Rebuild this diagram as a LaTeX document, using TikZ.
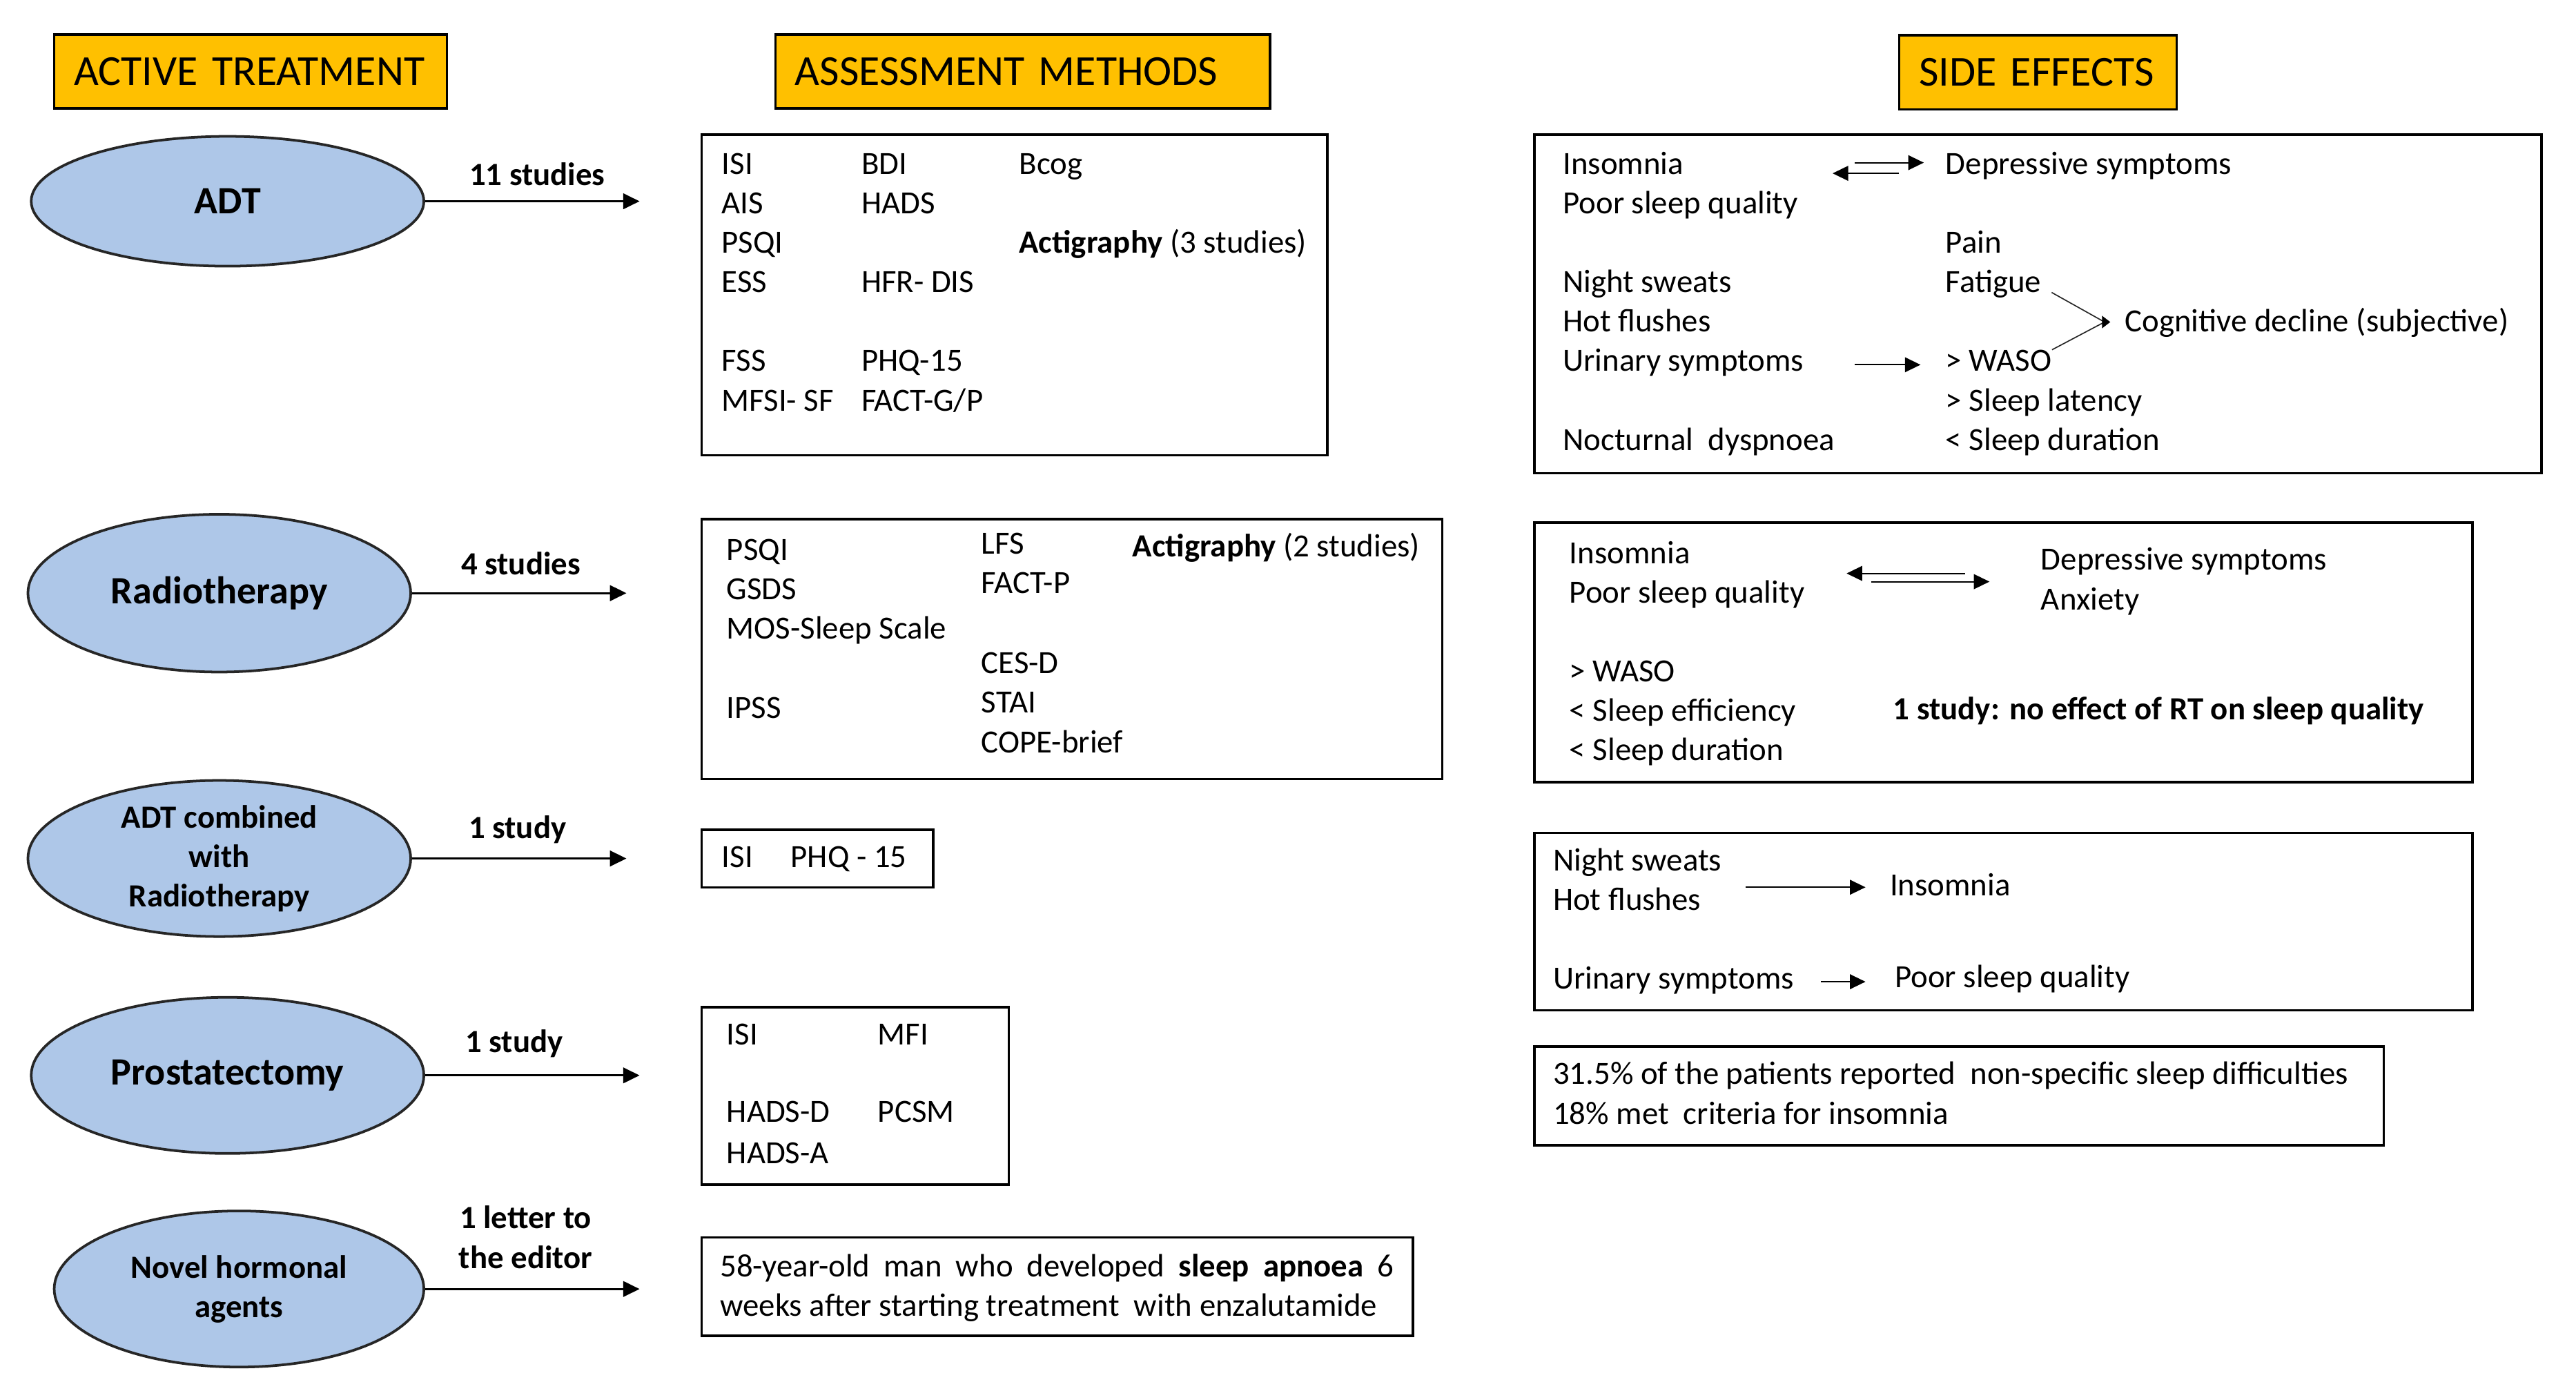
\documentclass[tikz,border=0pt]{standalone}
\usepackage{fontspec}
\setmainfont{Carlito}
\usetikzlibrary{arrows.meta,positioning,calc,shapes.geometric}
\definecolor{headorange}{HTML}{FFC000}
\definecolor{treatblue}{HTML}{AEC7E8}
\newcommand{\bodysize}{\fontsize{11.2}{13.66}\selectfont}
\newcommand{\headsize}{\fontsize{14.8}{17.8}\selectfont}
\newcommand{\treatsize}{\fontsize{13.4}{16}\selectfont}

\begin{document}
\begin{tikzpicture}[
  font=\bodysize,
  head/.style={draw, fill=headorange, line width=0.8pt, font=\headsize, align=left, inner xsep=0.24cm, minimum height=0.9cm},
  treat/.style={draw=black!85, fill=treatblue, ellipse, line width=0.9pt, inner sep=0pt, font=\treatsize\bfseries, align=center},
  box/.style={draw, line width=0.8pt, inner sep=0pt},
  lbl/.style={anchor=base west, inner sep=0pt},
  cnt/.style={font=\bodysize\bfseries, align=center, inner sep=0pt},
  arr/.style={-{Triangle[length=2.0mm, width=1.9mm]}, line width=0.65pt},
  sarr/.style={-{Triangle[length=1.9mm, width=1.8mm]}, line width=0.5pt},
  thinl/.style={line width=0.4pt, black!85}
]
\useasboundingbox (0,0) rectangle (31.36,-17.04);

% headings
\node[head, text width=4.30cm] (hact)  at (3.05,-0.87)  {ACTIVE TREATMENT};
\node[head, text width=5.54cm] (hasm)  at (12.45,-0.87) {ASSESSMENT METHODS};
\node[head, text width=2.90cm] (hside) at (24.81,-0.88) {SIDE EFFECTS};

% treatments
\node[treat, minimum width=4.78cm, minimum height=1.58cm] (adt)   at (2.77,-2.45)  {ADT};
\node[treat, minimum width=4.66cm, minimum height=1.92cm] (rt)    at (2.67,-7.22)  {Radiotherapy};
\node[treat, minimum width=4.66cm, minimum height=1.90cm, font=\bodysize\bfseries] (combo) at (2.67,-10.45) {ADT combined\\with\\Radiotherapy};
\node[treat, minimum width=4.78cm, minimum height=1.90cm] (prost) at (2.77,-13.09) {Prostatectomy};
\node[treat, minimum width=4.50cm, minimum height=1.90cm, font=\bodysize\bfseries] (novel) at (2.91,-15.69) {Novel hormonal\\agents};

% assessment boxes
\node[box, minimum width=7.62cm, minimum height=3.90cm] (am1) at (12.35,-3.59) {};
\node[box, minimum width=9.02cm, minimum height=3.16cm] (am2) at (13.05,-7.90) {};
\node[box, minimum width=2.82cm, minimum height=0.70cm] (am3) at (9.95,-10.45) {};
\node[box, minimum width=3.74cm, minimum height=2.16cm] (am4) at (10.41,-13.34) {};
\node[box, minimum width=8.66cm, minimum height=1.20cm] (am5) at (12.87,-15.66) {};

% side effect boxes
\node[box, minimum width=12.26cm, minimum height=4.12cm] (se1) at (24.81,-3.70) {};
\node[box, minimum width=11.42cm, minimum height=3.16cm] (se2) at (24.39,-7.94) {};
\node[box, minimum width=11.42cm, minimum height=2.16cm] (se3) at (24.39,-11.22) {};
\node[box, minimum width=10.34cm, minimum height=1.20cm] (se4) at (23.85,-13.34) {};

% treatment arrows
\draw[arr, shorten >=0.74cm] (adt.east)   -- (adt.east -| am1.west);
\draw[arr, shorten >=0.90cm] (rt.east)    -- (rt.east -| am2.west);
\draw[arr, shorten >=0.90cm] (combo.east) -- (combo.east -| am3.west);
\draw[arr, shorten >=0.74cm] (prost.east) -- (prost.east -| am4.west);
\draw[arr, shorten >=0.74cm] (novel.east) -- (novel.east -| am5.west);
\node[cnt] (l1) at (6.54,-2.12)  {11 studies};
\node[cnt] (l2) at (6.34,-6.86)  {4 studies};
\node[cnt] (l3) at (6.30,-10.10) {1 study};
\node[cnt] (l4) at (6.26,-12.70) {1 study};
\node[cnt] (l5) at (6.40,-15.06) {1 letter to\\the editor};

% ADT methods
\node[lbl] (m1isi)  at (8.78,-2.12)  {ISI};
\node[lbl] (m1bdi)  at (10.48,-2.12) {BDI};
\node[lbl] (m1bcog) at (12.40,-2.12) {Bcog};
\node[lbl] (m1ais)  at (8.78,-2.60)  {AIS};
\node[lbl] (m1hads) at (10.48,-2.60) {HADS};
\node[lbl] (m1psqi) at (8.78,-3.08)  {PSQI};
\node[lbl] (m1act)  at (12.40,-3.08) {\textbf{Actigraphy} (3 studies)};
\node[lbl] (m1ess)  at (8.78,-3.56)  {ESS};
\node[lbl] (m1hfr)  at (10.48,-3.56) {HFR- DIS};
\node[lbl] (m1fss)  at (8.78,-4.52)  {FSS};
\node[lbl] (m1phq)  at (10.48,-4.52) {PHQ-15};
\node[lbl] (m1mfsi) at (8.78,-5.00)  {MFSI- SF};
\node[lbl] (m1fact) at (10.48,-5.00) {FACT-G/P};

% RT methods
\node[lbl] (m2psqi)  at (8.84,-6.82)  {PSQI};
\node[lbl] (m2gsds)  at (8.84,-7.30)  {GSDS};
\node[lbl] (m2mos)   at (8.84,-7.78)  {MOS-Sleep Scale};
\node[lbl] (m2ipss)  at (8.84,-8.74)  {IPSS};
\node[lbl] (m2lfs)   at (11.94,-6.74) {LFS};
\node[lbl] (m2factp) at (11.94,-7.22) {FACT-P};
\node[lbl] (m2cesd)  at (11.94,-8.20) {CES-D};
\node[lbl] (m2stai)  at (11.94,-8.68) {STAI};
\node[lbl] (m2cope)  at (11.94,-9.16) {COPE-brief};
\node[lbl] (m2act)   at (13.78,-6.78) {\textbf{Actigraphy} (2 studies)};

% combined, prostatectomy, novel agents
\node[lbl] (m3isi)   at (8.78,-10.56)  {ISI};
\node[lbl] (m3phq)   at (9.62,-10.56)  {PHQ - 15};
\node[lbl] (m4isi)   at (8.84,-12.72)  {ISI};
\node[lbl] (m4mfi)   at (10.68,-12.72) {MFI};
\node[lbl] (m4hadsd) at (8.84,-13.66)  {HADS-D};
\node[lbl] (m4pcsm)  at (10.68,-13.66) {PCSM};
\node[lbl] (m4hadsa) at (8.84,-14.16)  {HADS-A};
\node[lbl] (m5a) at (8.76,-15.54) {\makebox[8.2cm][s]{58-year-old man who developed \textbf{sleep apnoea} 6}};
\node[lbl] (m5b) at (8.76,-16.02) {weeks after starting treatment\ \ with enzalutamide};

% ADT side effects
\node[lbl] (s1ins)   at (19.02,-2.12) {Insomnia};
\node[lbl] (s1poor)  at (19.02,-2.60) {Poor sleep quality};
\node[lbl] (s1night) at (19.02,-3.56) {Night sweats};
\node[lbl] (s1hot)   at (19.02,-4.04) {Hot flushes};
\node[lbl] (s1uri)   at (19.02,-4.52) {Urinary symptoms};
\node[lbl] (s1noc)   at (19.02,-5.48) {Nocturnal\ \ dyspnoea};
\node[lbl] (s1dep)   at (23.68,-2.12) {Depressive symptoms};
\node[lbl] (s1pain)  at (23.68,-3.08) {Pain};
\node[lbl] (s1fat)   at (23.68,-3.56) {Fatigue};
\node[lbl] (s1waso)  at (23.68,-4.52) {> WASO};
\node[lbl] (s1lat)   at (23.68,-5.00) {> Sleep latency};
\node[lbl] (s1dur)   at (23.68,-5.48) {< Sleep duration};
\node[lbl] (s1cog)   at (25.86,-4.04) {Cognitive decline (subjective)};
\coordinate (s1u) at (22.58,-1.98);
\coordinate (s1v) at (22.31,-2.11);
\coordinate (s1w) at (22.58,-4.44);
\coordinate (s1c) at (25.62,-3.92);
\draw[sarr, shorten >=0.26cm] (s1u) -- (s1u -| s1dep.west);
\draw[sarr, shorten <=0.56cm] (s1v -| s1dep.west) -- (s1v);
\draw[sarr, shorten >=0.30cm] (s1w) -- (s1w -| s1waso.west);
\draw[thinl] ($(s1fat.base east)+(0.12,0)$) -- (s1c);
\draw[thinl] (s1waso.north east) -- (s1c);
\draw[-{Triangle[length=1.0mm, width=1.5mm]}, line width=0.4pt, shorten >=0.17cm] (s1c) -- (s1c -| s1cog.west);

% RT side effects
\node[lbl] (s2ins)  at (19.10,-6.86) {Insomnia};
\node[lbl] (s2poor) at (19.10,-7.34) {Poor sleep quality};
\node[lbl] (s2waso) at (19.10,-8.30) {> WASO};
\node[lbl] (s2eff)  at (19.10,-8.78) {< Sleep efficiency};
\node[lbl] (s2dur)  at (19.10,-9.26) {< Sleep duration};
\node[lbl] (s2dep)  at (24.84,-6.94) {Depressive symptoms};
\node[lbl] (s2anx)  at (24.84,-7.42) {Anxiety};
\node[lbl, font=\bodysize\bfseries] (s2rt) at (23.04,-8.76) {1 study: no effect of RT on sleep quality};
\coordinate (s2u) at (22.48,-6.98);
\coordinate (s2v) at (22.78,-7.08);
\draw[sarr, shorten <=0.92cm] (s2u -| s2dep.west) -- (s2u);
\draw[sarr, shorten >=0.62cm] (s2v) -- (s2v -| s2dep.west);

% combined side effects
\node[lbl] (s3night) at (18.90,-10.60) {Night sweats};
\node[lbl] (s3hot)   at (18.90,-11.08) {Hot flushes};
\node[lbl] (s3uri)   at (18.90,-12.04) {Urinary symptoms};
\node[lbl] (s3ins)   at (23.00,-10.90) {Insomnia};
\node[lbl] (s3poor)  at (23.06,-12.02) {Poor sleep quality};
\coordinate (s3u) at (21.25,-10.80);
\coordinate (s3v) at (22.17,-11.95);
\draw[sarr, shorten >=0.29cm] (s3u) -- (s3u -| s3ins.west);
\draw[sarr, shorten >=0.35cm] (s3v) -- (s3v -| s3poor.west);

% prostatectomy side effects
\node[lbl] (s4a) at (18.90,-13.20) {31.5\% of the patients reported\ \ non-specific sleep difficulties};
\node[lbl] (s4b) at (18.90,-13.68) {18\% met\ \ criteria for insomnia};
\end{tikzpicture}
\end{document}
